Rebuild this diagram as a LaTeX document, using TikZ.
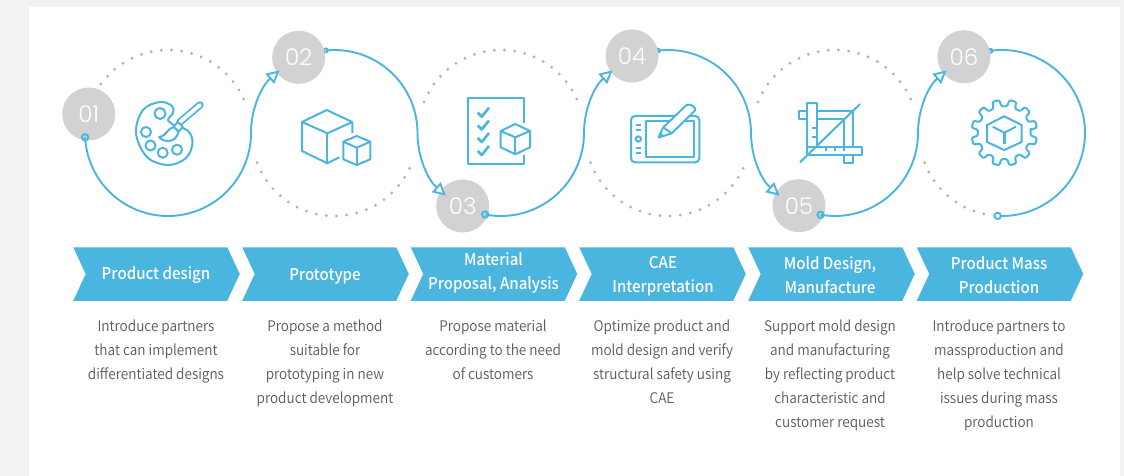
\documentclass[tikz,border=0pt]{standalone}
\usepackage{fontspec}
\usepackage{tikz}
\usetikzlibrary{calc,arrows.meta,shapes.symbols}
\setmainfont{Noto Sans CJK KR}[UprightFont=* Medium,FakeStretch=0.93]
\newfontfamily\numfont{Poppins}[UprightFont=* Light]
\newfontfamily\descfont{Noto Sans CJK KR}[UprightFont=* DemiLight,FakeStretch=0.93]
\definecolor{flowblue}{HTML}{4AB5DE}
\definecolor{badgegray}{HTML}{D2D2D2}
\definecolor{dotgray}{HTML}{B4B4B4}
\definecolor{pagegray}{HTML}{F1F3F3}
\definecolor{desctext}{HTML}{5A5A5A}
\newcommand{\rr}{83pt}
\tikzset{
  flowline/.style={draw=flowblue,line width=1.9pt},
  flowarrow/.style={flowline,-{Triangle[open,fill=white,length=13pt,width=13pt]}},
  dotarc/.style={draw=dotgray,line width=3.2pt,line cap=round,dash pattern=on 0pt off 10.2pt},
  badge/.style={circle,fill=badgegray,minimum size=53pt,inner sep=0pt,text=white,font=\numfont\fontsize{23}{24}\selectfont},
  chevron/.style={shape=signal,signal from=west,signal to=east,signal pointer angle=130,fill=flowblue,minimum width=166.5pt,minimum height=53.5pt,inner sep=0pt},
  chevlabel/.style={align=center,text=white,inner sep=0pt,font=\fontsize{16.2}{24}\selectfont},
  desc/.style={anchor=north,align=center,text=desctext,inner sep=0pt,font=\descfont\fontsize{14.6}{24}\selectfont},
  icon/.style={draw=flowblue,line width=2pt,line join=round},
  iconthick/.style={draw=flowblue,line width=2.6pt,line join=round}
}
\begin{document}
\begin{tikzpicture}[x=1pt,y=1pt]
\useasboundingbox (0,0) rectangle (1124,-476);
\fill[pagegray] (0,0) rectangle (1124,-476);
\fill[white] (29,-7) rectangle (1120,-476);
\coordinate (c1) at (168,-133);
\coordinate (c2) at (334.5,-133);
\coordinate (c3) at (501,-133);
\coordinate (c4) at (668,-133);
\coordinate (c5) at (835,-133);
\coordinate (c6) at (1002,-133);
\path (c1) ++(183:\rr) coordinate (s1);
\path (c2) ++(96:\rr) coordinate (s2);
\path (c3) ++(259:\rr) coordinate (s3);
\path (c4) ++(97:\rr) coordinate (s4);
\path (c5) ++(260:\rr) coordinate (s5);
\path (c6) ++(98:\rr) coordinate (s6);
\path (c6) ++(267:\rr) coordinate (e6);
\draw[dotarc] (c1) ++(158:\rr) arc[start angle=158,end angle=22,radius=\rr];
\draw[dotarc] (c2) ++(201:\rr) arc[start angle=201,end angle=339,radius=\rr];
\draw[dotarc] (c3) ++(158:\rr) arc[start angle=158,end angle=22,radius=\rr];
\draw[dotarc] (c4) ++(201:\rr) arc[start angle=201,end angle=339,radius=\rr];
\draw[dotarc] (c5) ++(158:\rr) arc[start angle=158,end angle=22,radius=\rr];
\draw[dotarc] (c6) ++(201:\rr) arc[start angle=201,end angle=259,radius=\rr];
\draw[flowline] (s2) circle (2pt);
\draw[flowline] (s4) circle (2pt);
\draw[flowline] (s6) circle (2pt);
\node[badge] (b1) at (88.7,-114) {01};
\node[badge] (b2) at (298.7,-57.3) {02};
\node[badge] (b3) at (462.7,-206) {03};
\node[badge] (b4) at (632,-56) {04};
\node[badge] (b5) at (799,-205.7) {05};
\node[badge] (b6) at (964,-56.7) {06};
\draw[flowarrow] (s1) arc[start angle=183,end angle=360,radius=\rr] arc[start angle=180,end angle=131,radius=\rr];
\draw[flowarrow] (s2) arc[start angle=96,end angle=0,radius=\rr] arc[start angle=180,end angle=229,radius=\rr];
\draw[flowarrow] (s3) arc[start angle=259,end angle=360,radius=\rr] arc[start angle=180,end angle=131,radius=\rr];
\draw[flowarrow] (s4) arc[start angle=97,end angle=0,radius=\rr] arc[start angle=180,end angle=229,radius=\rr];
\draw[flowarrow] (s5) arc[start angle=260,end angle=360,radius=\rr] arc[start angle=180,end angle=131,radius=\rr];
\draw[flowline] (s6) arc[start angle=98,end angle=-93,radius=\rr];
\draw[flowline] (s1) circle (3.2pt);
\draw[flowline] (s3) circle (3.2pt);
\draw[flowline] (s5) circle (3.2pt);
\draw[flowline,fill=white] (e6) circle (3.2pt);
% palette
\draw[icon] plot[smooth,tension=0.6] coordinates {(174,-125) (188,-131) (192.5,-143) (186,-158) (168,-165) (147,-157) (136,-133) (143,-110) (160,-102) (172,-106) (173,-113) (168,-120) (174,-125)};
\draw[icon] (160,-113.5) circle (5.5pt);
\draw[icon] (146,-132) circle (5pt);
\draw[icon] (150.5,-145.5) circle (5pt);
\draw[icon] (162.7,-152.7) circle (5pt);
\draw[icon] (177,-149.7) circle (5pt);
\draw[draw=flowblue,line width=1.8pt,double=white,double distance=3.8pt,line cap=round] (180,-122) -- (200,-105);
\draw[icon,fill=white] (173.5,-126.5) -- (178,-122) -- (183,-127) -- (178.5,-131.5) -- cycle;
\draw[icon,fill=white] (174,-127) .. controls (167,-128) and (167,-136) .. (159,-137) .. controls (164,-143) and (176,-143) .. (178.5,-132) -- cycle;
% cubes
\draw[icon] (339.3,-157.3) -- (327.3,-163.3) -- (302,-151) -- (302,-122) -- (326.7,-110) -- (352.3,-122) -- (352.3,-133);
\draw[icon] (302,-122) -- (327.3,-133.3) -- (352.3,-122);
\draw[icon] (327.3,-133.3) -- (327.3,-163.3);
\draw[icon] (356.7,-136) -- (370.3,-141.7) -- (370.3,-159.3) -- (356.7,-165) -- (343.3,-159.3) -- (343.3,-141.7) -- cycle;
\draw[icon] (343.3,-141.7) -- (356.7,-147.7) -- (370.3,-141.7);
\draw[icon] (356.7,-147.7) -- (356.7,-165);
% checklist
\draw[icon] (524.3,-122.7) -- (524.3,-98.3) -- (468.3,-98.3) -- (468.3,-164) -- (524.3,-164) -- (524.3,-155);
\draw[iconthick] (477.7,-112.7) -- (481.7,-116.7) -- (489,-107.7);
\draw[iconthick] (477.7,-125.5) -- (481.7,-129.5) -- (489,-120.5);
\draw[iconthick] (477.7,-138) -- (481.7,-142) -- (489,-133);
\draw[iconthick] (477.7,-151) -- (481.7,-155) -- (489,-146);
\draw[icon] (515.3,-124) -- (530,-131) -- (530,-147.3) -- (515.3,-154.3) -- (500.7,-147.3) -- (500.7,-131) -- cycle;
\draw[icon] (500.7,-131) -- (515.3,-137.3) -- (530,-131);
\draw[icon] (515.3,-137.3) -- (515.3,-154.3);
% tablet
\draw[icon,rounded corners=4pt] (631,-116) rectangle (699.3,-162.3);
\draw[icon] (645.7,-121) rectangle (694,-157.3);
\draw[icon] (636,-125) -- (640.7,-125);
\draw[icon] (636,-130) -- (640.7,-130);
\draw[icon] (638.4,-139) circle (2.6pt);
\draw[icon] (636,-148) -- (640.7,-148);
\draw[icon] (636,-153.3) -- (640.7,-153.3);
\draw[icon,fill=white,rounded corners=0.6pt] (658.3,-137.7) -- (663.3,-127.3) -- (686,-105.5) .. controls (690,-102.5) and (697,-108) .. (694.5,-111) -- (671.7,-133.3) -- cycle;
\draw[icon] (663.3,-127.3) -- (671.7,-133.3);
\fill[flowblue] (658.3,-137.7) -- (660.5,-132.7) -- (664,-135.5) -- cycle;
% rulers
\draw[icon] (807.3,-146.7) -- (807.3,-102.7) -- (816.7,-102.7) -- (816.7,-146.7);
\draw[icon] (807.3,-146.7) rectangle (861.7,-155.3);
\draw[icon] (807.3,-111) -- (799.3,-111) -- (799.3,-119.3) -- (807.3,-119.3);
\draw[icon] (816.7,-111) -- (853.3,-111) -- (853.3,-146.7);
\draw[icon] (816.7,-119.3) -- (844,-119.3) -- (844,-146.7);
\draw[icon] (844,-155.3) -- (844,-163.3) -- (853.3,-163.3) -- (853.3,-155.3);
\draw[icon] (800,-162.3) -- (860,-104);
\draw[icon] (812,-128) -- (816.7,-128);
\draw[icon] (812,-137) -- (816.7,-137);
\draw[icon] (826,-146.7) -- (826,-151);
\draw[icon] (835,-146.7) -- (835,-151);
\draw[icon] (844,-146.7) -- (844,-151);
% gear
\coordinate (g) at (1004.3,-132.7);
\draw[icon,rounded corners=1.2pt] ($(g)+(6:26.5)$) \foreach \a in {15,45,...,345} { -- ($(g)+(\a-9:26.5)$) -- ($(g)+(\a-6:33)$) -- ($(g)+(\a+6:33)$) -- ($(g)+(\a+9:26.5)$) } -- cycle;
\draw[icon] (1004.3,-116.3) -- (1021.7,-125) -- (1021.7,-142) -- (1004.3,-150) -- (987,-142) -- (987,-125) -- cycle;
\draw[icon] (992.7,-126.7) -- (1004.3,-132.7) -- (1016,-126.7);
\draw[iconthick] (1004.3,-132.7) -- (1004.3,-144.3);
% ribbons
\node[chevron] (chev1) at (156.5,-274) {};
\node[chevron] (chev2) at (325.5,-274) {};
\node[chevron] (chev3) at (494,-274) {};
\node[chevron] (chev4) at (662.5,-274) {};
\node[chevron] (chev5) at (831.5,-274) {};
\node[chevron] (chev6) at (1000,-274) {};
\node[chevlabel] (label1) at (156,-275) {Product design};
\node[chevlabel] (label2) at (325,-276) {Prototype};
\node[chevlabel] (label3) at (493.5,-273) {Material\\Proposal, Analysis};
\node[chevlabel] (label4) at (663,-276) {CAE\\Interpretation};
\node[chevlabel] (label5) at (830,-275) {Mold Design,\\Manufacture};
\node[chevlabel] (label6) at (999,-275) {Product Mass\\Production};
\node[desc] (desc1) at (156,-320) {Introduce partners\\that can implement\\differentiated designs};
\node[desc] (desc2) at (325,-320) {Propose a method\\suitable for\\prototyping in new\\product development};
\node[desc] (desc3) at (493,-320) {Propose material\\according to the need\\of customers};
\node[desc] (desc4) at (662,-320) {Optimize product and\\mold design and verify\\structural safety using\\CAE};
\node[desc] (desc5) at (830,-320) {Support mold design\\and manufacturing\\by reflecting product\\characteristic and\\customer request};
\node[desc] (desc6) at (999,-320) {Introduce partners to\\massproduction and\\help solve technical\\issues during mass\\production};
\end{tikzpicture}
\end{document}
